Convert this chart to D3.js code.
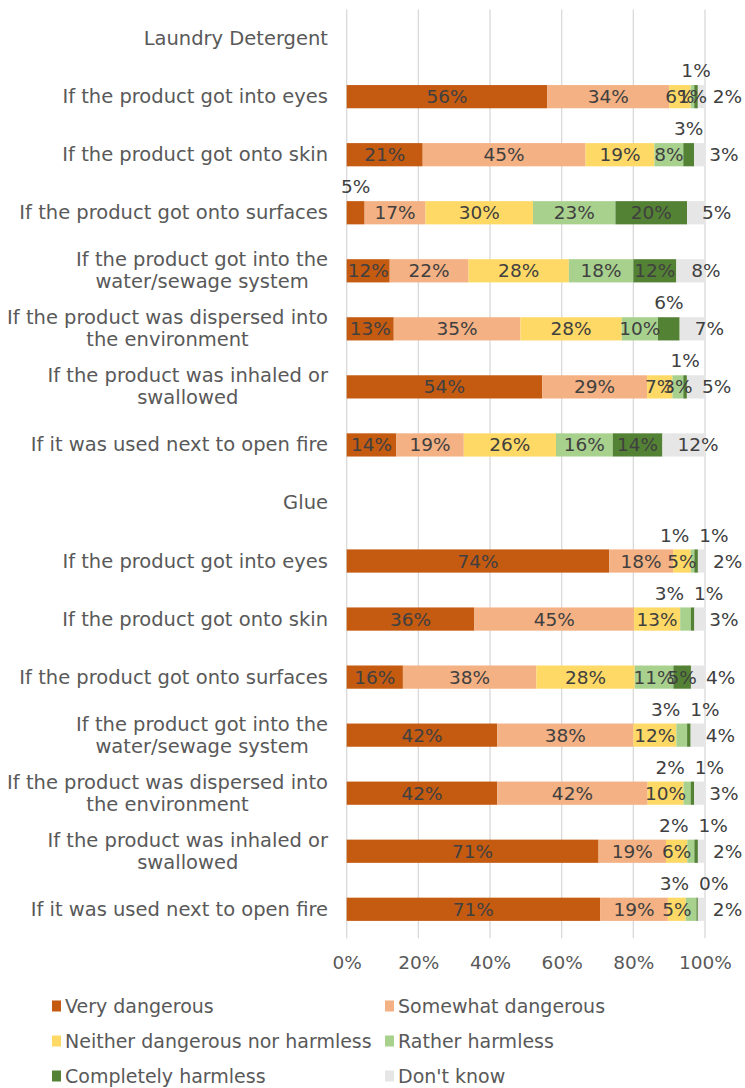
<!DOCTYPE html>
<html>
<head>
<meta charset="utf-8">
<script src="https://cdn.jsdelivr.net/npm/d3@7"></script>
<style>
  html, body { margin: 0; padding: 0; background: #fff; }
  svg { display: block; }
  text { font-family: "DejaVu Sans", Verdana, sans-serif; }
</style>
</head>
<body>
<div id="chart"></div>
<script>
// ---------- DATA ----------
const categories = [
  "Laundry Detergent",
  "If the product got into eyes",
  "If the product got onto skin",
  "If the product got onto surfaces",
  "If the product got into the\nwater/sewage system",
  "If the product was dispersed into\nthe environment",
  "If the product was inhaled or\nswallowed",
  "If it was used next to open fire",
  "Glue",
  "If the product got into eyes",
  "If the product got onto skin",
  "If the product got onto surfaces",
  "If the product got into the\nwater/sewage system",
  "If the product was dispersed into\nthe environment",
  "If the product was inhaled or\nswallowed",
  "If it was used next to open fire"
];
const seriesNames = ["Very dangerous", "Somewhat dangerous", "Neither dangerous nor harmless",
                     "Rather harmless", "Completely harmless", "Don't know"];
const veryDangerous      = [null, 56, 21,  5, 12, 13, 54, 14, null, 74, 36, 16, 42, 42, 71, 71];
const somewhatDangerous  = [null, 34, 45, 17, 22, 35, 29, 19, null, 18, 45, 38, 38, 42, 19, 19];
const neitherNor         = [null,  6, 19, 30, 28, 28,  7, 26, null,  5, 13, 28, 12, 10,  6,  5];
const ratherHarmless     = [null,  1,  8, 23, 18, 10,  3, 16, null,  1,  3, 11,  3,  2,  2,  3];
const completelyHarmless = [null,  1,  3, 20, 12,  6,  1, 14, null,  1,  1,  5,  1,  1,  1, 0.4];
const dontKnow           = [null,  2,  3,  5,  8,  7,  5, 12, null,  2,  3,  4,  4,  3,  2,  2];
const tickValues = [0, 0.2, 0.4, 0.6, 0.8, 1];
const colors = ["#C55A11", "#F4B183", "#FFD966", "#A9D18E", "#548235", "#E7E6E6"];
// labels that sit above the bar: [row index, series index]
const liftedLabels = [[1,4],[2,4],[3,0],[5,4],[6,4],[9,3],[9,4],[10,3],[10,4],[12,3],[12,4],[13,3],[13,4],[14,3],[14,4],[15,3],[15,4]];

// ---------- CHART ----------
const W = 745, H = 1088;
const series = [veryDangerous, somewhatDangerous, neitherNor, ratherHarmless, completelyHarmless, dontKnow];

const svg = d3.select("#chart").append("svg").attr("width", W).attr("height", H);

const x = d3.scaleLinear().domain([0, 1]).range([346.7, 705]);
const y = d3.scaleBand().domain(d3.range(categories.length)).range([9.6, 938.3])
  .paddingInner(0.6).paddingOuter(0.3);

// gridlines
svg.append("g").selectAll("line").data(tickValues).join("line")
  .attr("x1", d => x(d)).attr("x2", d => x(d))
  .attr("y1", 9.6).attr("y2", 938.3)
  .attr("stroke", "#D9D9D9").attr("stroke-width", 1.3);

// stacked segments (100% normalized)
const rows = categories.map((c, i) => {
  const vals = series.map(s => s[i]);
  if (vals[0] === null) return null;
  const total = d3.sum(vals);
  let acc = 0;
  const segs = vals.map((v, k) => {
    const s = { row: i, k, v, x0: acc / total, x1: (acc + v) / total };
    acc += v;
    return s;
  });
  return segs;
});
const segs = rows.filter(r => r).flat();

svg.append("g").selectAll("rect").data(segs).join("rect")
  .attr("x", d => x(d.x0))
  .attr("width", d => Math.max(0, x(d.x1) - x(d.x0)) || (d.v > 0 ? 1 : 0))
  .attr("y", d => y(d.row))
  .attr("height", y.bandwidth())
  .attr("fill", d => colors[d.k]);

// data labels
const fmt = v => d3.format(".0f")(v) + "%";
const isLifted = (r, k) => liftedLabels.some(p => p[0] === r && p[1] === k);
const labelG = svg.append("g").attr("font-size", "18.5px").attr("fill", "#404040");
rows.forEach((r, i) => {
  if (!r) return;
  const cy = y(i) + y.bandwidth() / 2;
  const lifted = r.filter(s => isLifted(i, s.k));
  r.forEach(s => {
    const cx = x((s.x0 + s.x1) / 2);
    const t = labelG.append("text").text(fmt(s.v)).attr("dominant-baseline", "central");
    if (isLifted(i, s.k)) {
      const ly = cy - 26;
      if (lifted.length === 2) {
        const mid = d3.mean(lifted, q => x((q.x0 + q.x1) / 2));
        if (s === lifted[0]) t.attr("x", mid - 5).attr("text-anchor", "end");
        else t.attr("x", mid + 5).attr("text-anchor", "start");
      } else {
        t.attr("x", cx).attr("text-anchor", "middle");
      }
      t.attr("y", ly);
    } else if (s.k === 5) {
      t.attr("x", x(s.x0) + 15).attr("text-anchor", "start").attr("y", cy);
    } else {
      t.attr("x", cx).attr("text-anchor", "middle").attr("y", cy);
    }
  });
});

// category labels
const catG = svg.append("g").attr("font-size", "19.5px").attr("fill", "#595959");
categories.forEach((c, i) => {
  const lines = c.split("\n");
  const cy = y(i) + y.bandwidth() / 2;
  const t = catG.append("text").attr("text-anchor", "middle");
  lines.forEach((ln, j) => {
    t.append("tspan").text(ln)
      .attr("y", cy + (j - (lines.length - 1) / 2) * 22)
      .attr("dominant-baseline", "central");
  });
  const maxW = d3.max(t.selectAll("tspan").nodes(), n => n.getComputedTextLength());
  t.selectAll("tspan").attr("x", 328 - maxW / 2);
});

// x axis
const axis = svg.append("g").attr("transform", "translate(0,938)")
  .call(d3.axisBottom(x).tickValues(tickValues).tickFormat(d3.format(".0%")).tickSize(0).tickPadding(18));
axis.select(".domain").remove();
axis.selectAll("text").attr("font-family", "DejaVu Sans, Verdana, sans-serif")
  .attr("font-size", "18.5px").attr("fill", "#595959");

// legend
const legend = svg.append("g");
const legX = [52, 385], legY = [1006, 1041, 1076];
seriesNames.forEach((name, k) => {
  const lx = legX[k % 2], ly = legY[Math.floor(k / 2)];
  legend.append("rect").attr("x", lx).attr("y", ly - 5.5).attr("width", 9).attr("height", 11)
    .attr("fill", colors[k]);
  legend.append("text").attr("x", lx + 13).attr("y", ly).attr("dominant-baseline", "central")
    .attr("font-size", "19px").attr("fill", "#595959").text(name);
});
</script>
</body>
</html>
